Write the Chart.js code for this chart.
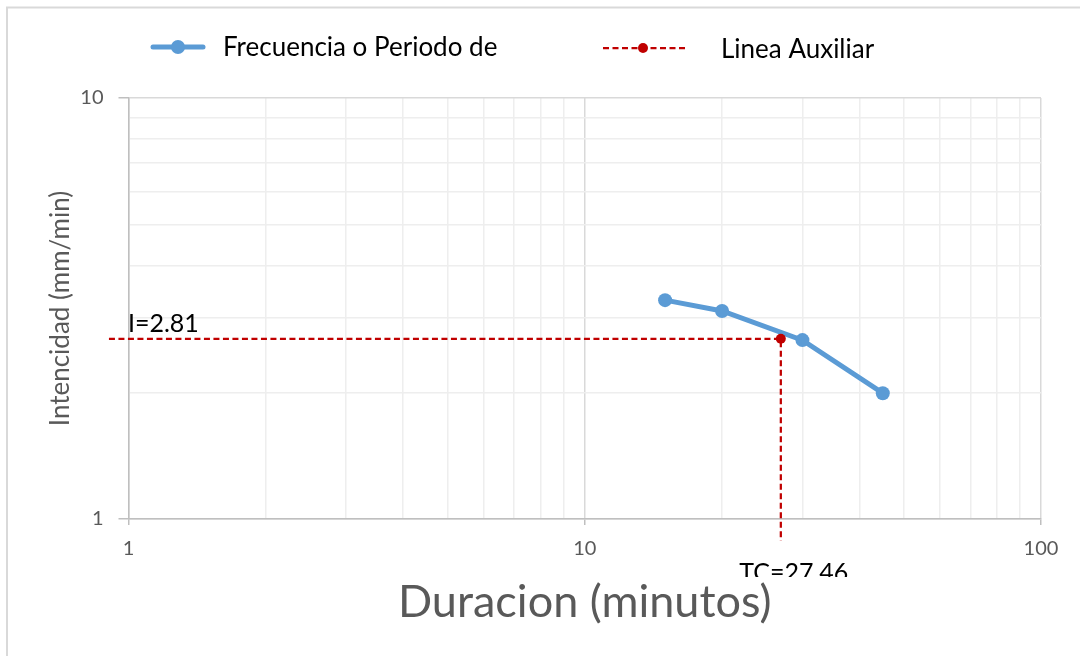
<!DOCTYPE html>
<html>
<head>
<meta charset="utf-8">
<script src="https://cdn.jsdelivr.net/npm/chart.js@4/dist/chart.umd.min.js"></script>
<style>
  html, body { margin: 0; padding: 0; background: #ffffff; }
  #wrap { width: 1080px; height: 656px; position: relative; }
</style>
</head>
<body>
<div id="wrap"><canvas id="c" width="1080" height="656"></canvas></div>
<script>
// ---- data ----
const durations = [15, 20, 30, 45];              // minutos
const intensities = [3.31, 3.12, 2.66, 1.99];    // mm/min
const auxX = [0.906, 26.9, 26.9];
const auxY = [2.68, 2.68, 0.887];
const auxPointRadius = [0, 5, 0];
const seriesNames = ['Frecuencia o Periodo de', 'Linea Auxiliar'];
const auxLabels = ['I=2.81', 'TC=27.46'];
const xTickLabels = [1, 10, 100];
const yTickLabels = [1, 10];
const xGridValues = [1, 2, 3, 4, 5, 6, 7, 8, 9, 10, 20, 30, 40, 50, 60, 70, 80, 90, 100];
const yGridValues = [1, 2, 3, 4, 5, 6, 7, 8, 9, 10];
const xTitle = 'Duracion (minutos)';
const yTitle = 'Intencidad (mm/min)';

const FONT = 'Lato, "Open Sans", "DejaVu Sans", sans-serif';
const BLUE = '#5b9bd5';
const RED = '#c00000';

function isMajor(v) {
  const l = Math.log10(v);
  return Math.abs(l - Math.round(l)) < 1e-9;
}

const overlay = {
  id: 'overlay',
  beforeDraw(chart) {
    const ctx = chart.ctx;
    ctx.save();
    ctx.strokeStyle = '#d9d9d9';
    ctx.lineWidth = 2;
    ctx.beginPath();
    ctx.moveTo(7, 656); ctx.lineTo(7, 7.5); ctx.lineTo(1080, 7.5);
    ctx.stroke();
    ctx.restore();
  },
  afterDraw(chart) {
    const ctx = chart.ctx;
    const xs = chart.scales.x, ys = chart.scales.y;
    ctx.save();
    // legend item 1
    ctx.strokeStyle = BLUE; ctx.lineWidth = 5; ctx.lineCap = 'round';
    ctx.beginPath(); ctx.moveTo(153, 47); ctx.lineTo(203, 47); ctx.stroke();
    ctx.fillStyle = BLUE;
    ctx.beginPath(); ctx.arc(178, 47, 7, 0, Math.PI * 2); ctx.fill();
    ctx.fillStyle = '#000000';
    ctx.font = '26px ' + FONT;
    ctx.textBaseline = 'middle'; ctx.textAlign = 'left';
    ctx.fillText(seriesNames[0], 223, 48);
    // legend item 2
    ctx.strokeStyle = RED; ctx.lineWidth = 2.25; ctx.lineCap = 'butt';
    ctx.setLineDash([6, 3.5]);
    ctx.beginPath(); ctx.moveTo(603, 48); ctx.lineTo(688, 48); ctx.stroke();
    ctx.setLineDash([]);
    ctx.fillStyle = RED;
    ctx.beginPath(); ctx.arc(643, 48, 5, 0, Math.PI * 2); ctx.fill();
    ctx.fillStyle = '#000000';
    ctx.fillText(seriesNames[1], 721, 50);

    // data labels on the auxiliary line
    const p0x = xs.getPixelForValue(auxX[0]), p0y = ys.getPixelForValue(auxY[0]);
    const p2x = xs.getPixelForValue(auxX[2]), p2y = ys.getPixelForValue(auxY[2]);
    ctx.font = '25px ' + FONT;
    ctx.fillStyle = '#000000';
    ctx.textAlign = 'left'; ctx.textBaseline = 'middle';
    ctx.fillText(auxLabels[0], p0x + 19, p0y - 15);
    ctx.save();
    ctx.beginPath(); ctx.rect(0, 0, 1080, 577); ctx.clip();
    ctx.textAlign = 'center';
    ctx.fillText(auxLabels[1], p2x + 13, p2y + 32);
    ctx.restore();
    ctx.restore();
  }
};

new Chart(document.getElementById('c'), {
  type: 'scatter',
  data: {
    datasets: [
      {
        label: seriesNames[0],
        data: durations.map((d, i) => ({ x: d, y: intensities[i] })),
        showLine: true,
        borderColor: BLUE,
        backgroundColor: BLUE,
        borderWidth: 5,
        pointRadius: 7,
        pointHoverRadius: 7,
        pointBorderWidth: 0,
        pointBackgroundColor: BLUE,
        order: 2
      },
      {
        label: seriesNames[1],
        data: auxX.map((d, i) => ({ x: d, y: auxY[i] })),
        showLine: true,
        borderColor: RED,
        backgroundColor: RED,
        borderWidth: 2.25,
        borderDash: [6, 3.5],
        pointRadius: auxPointRadius,
        pointHoverRadius: auxPointRadius,
        pointBorderWidth: 0,
        pointBackgroundColor: RED,
        clip: false,
        order: 1
      }
    ]
  },
  options: {
    responsive: false,
    animation: false,
    events: [],
    layout: { padding: { left: 0, right: 39, top: 98, bottom: 0 } },
    plugins: {
      legend: { display: false },
      tooltip: { enabled: false }
    },
    scales: {
      x: {
        type: 'logarithmic',
        min: 1, max: 100,
        afterFit(s) { s.height = 137; },
        afterBuildTicks(s) { s.ticks = xGridValues.map(v => ({ value: v, major: isMajor(v) })); },
        border: { color: '#bfbfbf', width: 1.5 },
        grid: {
          color: c => isMajor(c.tick.value) ? '#d9d9d9' : '#eeeeee',
          lineWidth: 1.5,
          tickLength: 6,
          tickColor: c => isMajor(c.tick.value) ? '#bfbfbf' : 'rgba(0,0,0,0)',
          tickWidth: 1.5
        },
        ticks: {
          autoSkip: false,
          maxRotation: 0,
          padding: 12,
          color: '#595959',
          font: { family: FONT, size: 20 },
          callback: v => xTickLabels.includes(v) ? String(v) : ''
        },
        title: {
          display: true,
          text: xTitle,
          color: '#595959',
          font: { family: FONT, size: 45 },
          padding: { top: 27, bottom: 27 }
        }
      },
      y: {
        type: 'logarithmic',
        min: 1, max: 10,
        afterFit(s) { s.width = 128.5; },
        afterBuildTicks(s) { s.ticks = yGridValues.map(v => ({ value: v, major: isMajor(v) })); },
        border: { color: '#bfbfbf', width: 1.5 },
        grid: {
          color: c => isMajor(c.tick.value) ? '#d9d9d9' : '#eeeeee',
          lineWidth: 1.5,
          tickLength: 10,
          tickColor: c => isMajor(c.tick.value) ? '#bfbfbf' : 'rgba(0,0,0,0)',
          tickWidth: 1.5
        },
        ticks: {
          autoSkip: false,
          padding: 15,
          color: '#595959',
          font: { family: FONT, size: 20 },
          callback: v => yTickLabels.includes(v) ? String(v) : ''
        },
        title: {
          display: true,
          text: yTitle,
          color: '#595959',
          font: { family: FONT, size: 26 },
          padding: { top: 45, bottom: 45 }
        }
      }
    }
  },
  plugins: [overlay]
});
</script>
</body>
</html>
